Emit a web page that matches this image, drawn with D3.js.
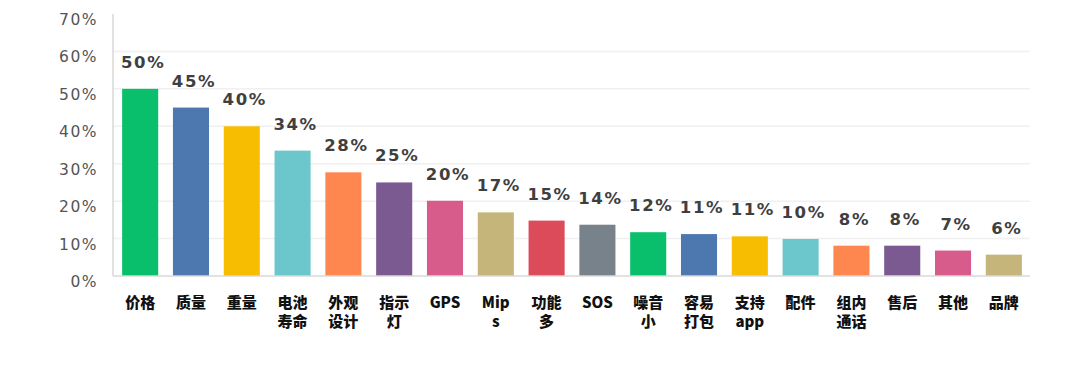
<!DOCTYPE html>
<html>
<head>
<meta charset="utf-8">
<script src="https://cdn.jsdelivr.net/npm/d3@7"></script>
<style>
body { margin: 0; background: #fff; }
</style>
</head>
<body>
<script>
// categories, second line after "\n"
const categories = ["价格", "质量", "重量", "电池\n寿命", "外观\n设计", "指示\n灯", "GPS", "Mip\ns", "功能\n多", "SOS",
  "噪音\n小", "容易\n打包", "支持\napp", "配件", "组内\n通话", "售后", "其他", "品牌"];
// percent
const values = [50, 45, 40, 33.5, 27.7, 25, 20.1, 17, 14.8, 13.7, 11.7, 11.2, 10.6, 9.9, 8.1, 8.1, 6.8, 5.7];
const valueLabels = ["50%", "45%", "40%", "34%", "28%", "25%", "20%", "17%", "15%", "14%", "12%", "11%", "11%", "10%", "8%", "8%", "7%", "6%"];
const yTicks = [0, 10, 20, 30, 40, 50, 60, 70];
const palette = ["#0abf6c", "#4d78af", "#f7bd00", "#6cc7cd", "#fe874f", "#7b5a91", "#d75b8b", "#c5b57a", "#dc4b59", "#78828a"];

const W = 1080, H = 392;
const svg = d3.select("body").append("svg").attr("width", W).attr("height", H);

const x = d3.scaleBand().domain(d3.range(categories.length)).range([114, 1030]).paddingInner(0.29).paddingOuter(0.16);
const y = d3.scaleLinear().domain([0, 70]).range([276, 14]);

// grid
svg.append("g").selectAll("line").data(yTicks.filter(d => d > 0 && d < 70)).join("line")
  .attr("x1", 113).attr("x2", 1030)
  .attr("y1", d => y(d)).attr("y2", d => y(d))
  .attr("stroke", "#f0f0f0").attr("stroke-width", 1.5);

// y labels
svg.append("g").selectAll("text").data(yTicks).join("text")
  .attr("x", 98).attr("y", d => y(d) + 11)
  .attr("text-anchor", "end")
  .attr("font-family", "DejaVu Sans").attr("font-size", 15.5).attr("letter-spacing", 1.5)
  .attr("fill", "#555")
  .text(d => d + "%");

// bars
svg.append("g").selectAll("rect").data(values).join("rect")
  .attr("x", (d, i) => x(i)).attr("width", x.bandwidth())
  .attr("y", d => y(d)).attr("height", d => y(0) - y(d))
  .attr("fill", (d, i) => palette[i % palette.length]);

// axes lines
svg.append("line").attr("x1", 113).attr("x2", 1030).attr("y1", y(0)).attr("y2", y(0))
  .attr("stroke", "#d9d9d9").attr("stroke-width", 1.5);
svg.append("line").attr("x1", 113).attr("x2", 113).attr("y1", 14).attr("y2", y(0))
  .attr("stroke", "#d9d9d9").attr("stroke-width", 1.5);

// value labels
svg.append("g").selectAll("text").data(values).join("text")
  .attr("x", (d, i) => x(i) + x.bandwidth() / 2 + 3)
  .attr("y", d => y(d) - 21)
  .attr("text-anchor", "middle")
  .attr("font-family", "DejaVu Sans").attr("font-weight", "bold").attr("font-size", 16.5).attr("letter-spacing", 1.6)
  .attr("fill", "#3f3f3f")
  .text((d, i) => valueLabels[i]);

// category labels
const cat = svg.append("g").selectAll("text").data(categories).join("text")
  .attr("x", (d, i) => x(i) + x.bandwidth() / 2)
  .attr("y", 308)
  .attr("text-anchor", "middle")
  .attr("font-family", "Noto Sans CJK SC").attr("font-weight", 900).attr("font-size", 15)
  .attr("fill", "#111");
cat.selectAll("tspan").data(d => d.split("\n")).join("tspan")
  .attr("x", function() { return d3.select(this.parentNode).attr("x"); })
  .attr("dy", (d, i) => i === 0 ? 0 : 19)
  .text(d => d);
</script>
</body>
</html>
